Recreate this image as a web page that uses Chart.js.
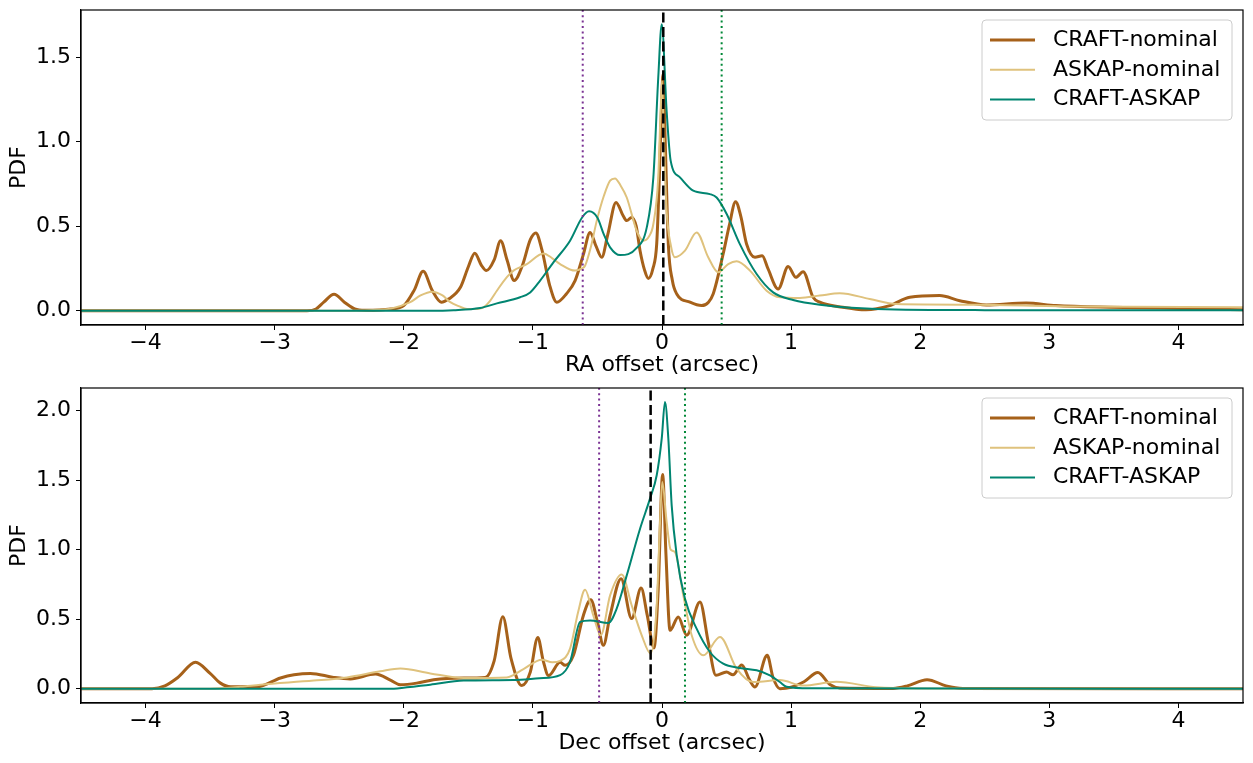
<!DOCTYPE html>
<html>
<head>
<meta charset="utf-8">
<title>RA / Dec offset PDF</title>
<script src="https://cdn.jsdelivr.net/npm/chart.js@4.4.1/dist/chart.umd.min.js"></script>
<style>
  body { margin: 0; background: #fff; }
  canvas { display: block; }
</style>
</head>
<body>
<canvas id="raChart" width="1253" height="378"></canvas>
<canvas id="decChart" width="1253" height="378"></canvas>
<script>
// ---- RA panel, values ----
const raCraftX = [-4.5, -2.75, -2.68, -2.62, -2.54, -2.46, -2.38, -2.3, -2.1, -2.0, -1.92, -1.85, -1.78, -1.71, -1.65, -1.56, -1.5, -1.45, -1.4, -1.36, -1.3, -1.25, -1.2, -1.145, -1.08, -1.02, -0.977, -0.93, -0.87, -0.815, -0.74, -0.673, -0.61, -0.557, -0.51, -0.467, -0.42, -0.356, -0.3, -0.273, -0.235, -0.2, -0.17, -0.135, -0.106, -0.07, -0.041, -0.02, 0.0, 0.008, 0.025, 0.049, 0.08, 0.114, 0.217, 0.307, 0.36, 0.397, 0.474, 0.52, 0.57, 0.61, 0.655, 0.72, 0.776, 0.82, 0.9, 0.977, 1.037, 1.093, 1.17, 1.222, 1.4, 1.58, 1.764, 1.919, 2.15, 2.306, 2.512, 2.82, 3.05, 3.47, 3.85, 4.5]
const raCraftY = [0, 0, 0.01, 0.05, 0.097, 0.05, 0.01, 0.002, 0.01, 0.03, 0.12, 0.233, 0.12, 0.05, 0.07, 0.14, 0.26, 0.34, 0.27, 0.237, 0.3, 0.414, 0.3, 0.178, 0.27, 0.42, 0.46, 0.36, 0.15, 0.05, 0.1, 0.178, 0.33, 0.463, 0.38, 0.316, 0.45, 0.641, 0.56, 0.533, 0.552, 0.5, 0.355, 0.24, 0.191, 0.25, 0.395, 0.8, 1.3, 1.4, 1.0, 0.394, 0.18, 0.099, 0.05, 0.03, 0.05, 0.1, 0.337, 0.5, 0.645, 0.56, 0.395, 0.316, 0.325, 0.25, 0.128, 0.262, 0.197, 0.231, 0.079, 0.05, 0.02, 0.005, 0.03, 0.079, 0.089, 0.059, 0.034, 0.045, 0.03, 0.02, 0.016, 0.005]

const raAskapX = [-4.5, -2.4, -2.2, -2.1, -1.95, -1.87, -1.78, -1.7, -1.64, -1.57, -1.51, -1.45, -1.383, -1.33, -1.279, -1.2, -1.15, -1.047, -0.918, -0.85, -0.789, -0.673, -0.62, -0.596, -0.55, -0.505, -0.45, -0.402, -0.364, -0.32, -0.273, -0.196, -0.145, -0.1, -0.067, -0.029, -0.01, 0.0, 0.015, 0.036, 0.07, 0.1, 0.178, 0.268, 0.358, 0.436, 0.513, 0.578, 0.681, 0.81, 0.913, 1.068, 1.222, 1.377, 1.609, 1.816, 2.435, 3.208, 4.5]
const raAskapY = [0, 0, 0.005, 0.012, 0.05, 0.09, 0.112, 0.09, 0.05, 0.025, 0.01, 0.01, 0.02, 0.06, 0.118, 0.2, 0.237, 0.276, 0.339, 0.31, 0.276, 0.237, 0.25, 0.266, 0.38, 0.533, 0.68, 0.77, 0.783, 0.74, 0.67, 0.473, 0.414, 0.44, 0.513, 0.789, 1.2, 1.36, 1.0, 0.59, 0.38, 0.316, 0.355, 0.463, 0.316, 0.227, 0.276, 0.292, 0.237, 0.118, 0.079, 0.075, 0.089, 0.103, 0.069, 0.039, 0.035, 0.024, 0.02]

const raCrossX = [-4.5, -1.8, -1.614, -1.408, -1.279, -1.099, -1.021, -0.944, -0.841, -0.712, -0.62, -0.565, -0.5, -0.45, -0.402, -0.325, -0.196, -0.118, -0.067, -0.029, -0.002, 0.036, 0.067, 0.139, 0.242, 0.371, 0.423, 0.501, 0.603, 0.733, 0.861, 1.016, 1.222, 1.661, 2.5, 4.5]
const raCrossY = [0, 0, 0.003, 0.016, 0.043, 0.079, 0.108, 0.178, 0.286, 0.414, 0.55, 0.588, 0.55, 0.45, 0.375, 0.329, 0.371, 0.493, 0.789, 1.38, 1.696, 1.18, 0.888, 0.789, 0.71, 0.69, 0.67, 0.572, 0.394, 0.217, 0.108, 0.063, 0.035, 0.01, 0.003, 0.002]

const raMarkX = [-0.614, 0.01, 0.462]
const raYRange = [-0.085, 1.78]
const raYTicks = [0, 0.5, 1.0, 1.5]

// ---- Dec panel ----
const decCraftX = [-4.5, -3.95, -3.85, -3.75, -3.613, -3.5, -3.42, -3.34, -3.136, -2.955, -2.85, -2.723, -2.543, -2.414, -2.22, -2.1, -2.027, -1.9, -1.769, -1.537, -1.369, -1.3, -1.233, -1.17, -1.086, -1.02, -0.962, -0.92, -0.879, -0.789, -0.75, -0.686, -0.609, -0.552, -0.5, -0.454, -0.402, -0.317, -0.235, -0.162, -0.114, -0.062, -0.029, 0.005, 0.031, 0.062, 0.126, 0.191, 0.294, 0.358, 0.418, 0.5, 0.55, 0.617, 0.68, 0.72, 0.815, 0.86, 0.913, 1.0, 1.1, 1.207, 1.3, 1.377, 1.79, 1.9, 2.053, 2.2, 2.33, 4.5]
const decCraftY = [0, 0, 0.02, 0.08, 0.19, 0.11, 0.04, 0.014, 0.014, 0.077, 0.1, 0.11, 0.081, 0.07, 0.105, 0.06, 0.029, 0.04, 0.065, 0.077, 0.081, 0.2, 0.518, 0.22, 0.022, 0.12, 0.369, 0.2, 0.094, 0.19, 0.168, 0.24, 0.527, 0.64, 0.48, 0.312, 0.527, 0.791, 0.504, 0.724, 0.527, 0.293, 0.72, 1.54, 0.959, 0.42, 0.516, 0.384, 0.624, 0.336, 0.096, 0.12, 0.1, 0.17, 0.06, 0.012, 0.24, 0.08, 0.0, 0.01, 0.05, 0.116, 0.03, 0.005, 0.002, 0.02, 0.065, 0.02, 0.002, 0]

const decAskapX = [-4.5, -3.5, -3.265, -3.11, -2.698, -2.44, -2.182, -2.027, -1.795, -1.537, -1.202, -1.073, -0.931, -0.85, -0.789, -0.712, -0.65, -0.596, -0.532, -0.474, -0.402, -0.312, -0.235, -0.157, -0.088, -0.041, -0.015, 0.002, 0.036, 0.067, 0.1, 0.165, 0.23, 0.32, 0.449, 0.578, 0.706, 0.758, 0.913, 1.093, 1.351, 1.661, 2.0, 4.5]
const decAskapY = [0, 0, 0.014, 0.029, 0.058, 0.081, 0.125, 0.146, 0.11, 0.077, 0.081, 0.141, 0.209, 0.19, 0.2, 0.288, 0.55, 0.712, 0.527, 0.384, 0.671, 0.822, 0.6, 0.384, 0.252, 0.6, 1.2, 1.487, 1.2, 1.0, 0.983, 0.671, 0.384, 0.24, 0.372, 0.144, 0.048, 0.05, 0.062, 0.022, 0.05, 0.01, 0.002, 0]

const decCrossX = [-4.5, -2.1, -2.05, -1.795, -1.537, -1.15, -0.95, -0.789, -0.712, -0.634, -0.557, -0.415, -0.351, -0.273, -0.17, -0.093, -0.041, -0.002, 0.023, 0.049, 0.075, 0.114, 0.178, 0.268, 0.371, 0.474, 0.603, 0.733, 0.836, 0.913, 0.965, 1.145, 4.5]
const decCrossY = [0, 0, 0.002, 0.029, 0.058, 0.062, 0.075, 0.098, 0.192, 0.48, 0.491, 0.473, 0.576, 0.815, 1.151, 1.367, 1.535, 1.8, 2.063, 1.8, 1.319, 0.959, 0.647, 0.432, 0.264, 0.18, 0.149, 0.132, 0.096, 0.048, 0.014, 0.003, 0]

const decMarkX = [-0.487, -0.088, 0.178]
const decYRange = [-0.103, 2.163]
const decYTicks = [0, 0.5, 1.0, 1.5, 2.0]

const xTicks = [-4, -3, -2, -1, 0, 1, 2, 3, 4]
const xRange = [-4.5, 4.5]
const seriesNames = ['CRAFT-nominal', 'ASKAP-nominal', 'CRAFT-ASKAP']

const colors = {
  curves: ['#a6611a', '#dfc27d', '#018571'],
  marks: ['#7b3294', '#000000', '#008837']
}
const curveWidths = [3, 2, 2]
const markDashes = [[2, 3.4], [10, 4.4], [2, 3.4]]
const markWidths = [2, 2.5, 2]

const fontFamily = '"DejaVu Sans", sans-serif'

const pts = (xs, ys) => xs.map((x, i) => ({ x, y: ys[i] }))

const framePlugin = {
  id: 'frame',
  afterDraw(chart) {
    const { ctx, chartArea: a } = chart
    ctx.save()
    ctx.strokeStyle = '#000'
    ctx.lineWidth = 1.2
    ctx.strokeRect(a.left, a.top, a.right - a.left, a.bottom - a.top)
    ctx.restore()
  }
}

// matplotlib-like legend drawn inside the upper right corner
const insideLegend = {
  id: 'insideLegend',
  afterDraw(chart) {
    const { ctx, chartArea: a } = chart
    const items = chart.data.datasets.filter(d => d.inLegend).sort((p, q) => p.legendIndex - q.legendIndex)
    const x0 = a.right - 261
    const y0 = a.top + 10
    ctx.save()
    ctx.fillStyle = 'rgba(255,255,255,0.8)'
    ctx.strokeStyle = '#cccccc'
    ctx.lineWidth = 1
    ctx.beginPath()
    ctx.roundRect(x0, y0, 250, 100, 4)
    ctx.fill()
    ctx.stroke()
    ctx.font = '22px ' + fontFamily
    ctx.textBaseline = 'middle'
    items.forEach((d, i) => {
      const y = y0 + 20 + i * 29.8
      ctx.strokeStyle = d.borderColor
      ctx.lineWidth = d.borderWidth
      ctx.beginPath()
      ctx.moveTo(x0 + 8, y)
      ctx.lineTo(x0 + 53, y)
      ctx.stroke()
      ctx.fillStyle = '#000'
      ctx.fillText(d.label, x0 + 71, y)
    })
    ctx.restore()
  }
}

const renderPanel = (id, curves, markX, yRange, yTicks, xTitle) => {

  const curveSets = curves.map((c, i) => ({
    label: seriesNames[i],
    data: pts(c[0], c[1]),
    borderColor: colors.curves[i],
    borderWidth: curveWidths[i],
    pointRadius: 0,
    fill: false,
    cubicInterpolationMode: 'monotone',
    inLegend: true,
    legendIndex: i,
    order: 3 - i
  }))

  const markSets = markX.map((mx, i) => ({
    label: '',
    data: [{ x: mx, y: yRange[0] }, { x: mx, y: yRange[1] }],
    borderColor: colors.marks[i],
    borderWidth: markWidths[i],
    borderDash: markDashes[i],
    pointRadius: 0,
    fill: false,
    order: 0
  }))

  const tickFont = { family: fontFamily, size: 22, lineHeight: 1 }

  const options = {
    responsive: false,
    animation: false,
    layout: { padding: { top: 10, right: 10, left: 0, bottom: 0 } },
    plugins: {
      legend: { display: false },
      tooltip: { enabled: false }
    },
    scales: {
      x: {
        type: 'linear',
        min: xRange[0],
        max: xRange[1],
        afterFit: s => { s.height = 53; s.paddingLeft = 0; s.paddingRight = 0 },
        afterBuildTicks: s => { s.ticks = xTicks.map(value => ({ value })) },
        grid: { display: true, drawOnChartArea: false, drawTicks: true, tickLength: 5, color: '#000' },
        border: { display: true, color: '#000', width: 1.2 },
        ticks: {
          color: '#000',
          font: tickFont,
          padding: 2,
          maxRotation: 0,
          callback: v => v < 0 ? '\u2212' + Math.abs(v) : String(v)
        },
        title: {
          display: true,
          text: xTitle,
          color: '#000',
          font: { family: fontFamily, size: 22 },
          padding: { top: 0, bottom: 0 }
        }
      },
      y: {
        type: 'linear',
        min: yRange[0],
        max: yRange[1],
        afterFit: s => { s.width = 81; s.paddingTop = 0; s.paddingBottom = 0 },
        afterBuildTicks: s => { s.ticks = yTicks.map(value => ({ value })) },
        grid: { display: true, drawOnChartArea: false, drawTicks: true, tickLength: 5, color: '#000' },
        border: { display: true, color: '#000', width: 1.2 },
        ticks: {
          color: '#000',
          font: tickFont,
          padding: 5,
          callback: v => v.toFixed(1)
        },
        title: {
          display: true,
          text: 'PDF',
          color: '#000',
          font: { family: fontFamily, size: 22 },
          padding: { top: 6, bottom: 0 }
        }
      }
    }
  }

  new Chart(id, {
    type: 'line',
    data: { datasets: [...markSets, ...curveSets] },
    options,
    plugins: [framePlugin, insideLegend]
  })
}

renderPanel('raChart',
  [[raCraftX, raCraftY], [raAskapX, raAskapY], [raCrossX, raCrossY]],
  raMarkX, raYRange, raYTicks, 'RA offset (arcsec)')

renderPanel('decChart',
  [[decCraftX, decCraftY], [decAskapX, decAskapY], [decCrossX, decCrossY]],
  decMarkX, decYRange, decYTicks, 'Dec offset (arcsec)')
</script>
</body>
</html>
